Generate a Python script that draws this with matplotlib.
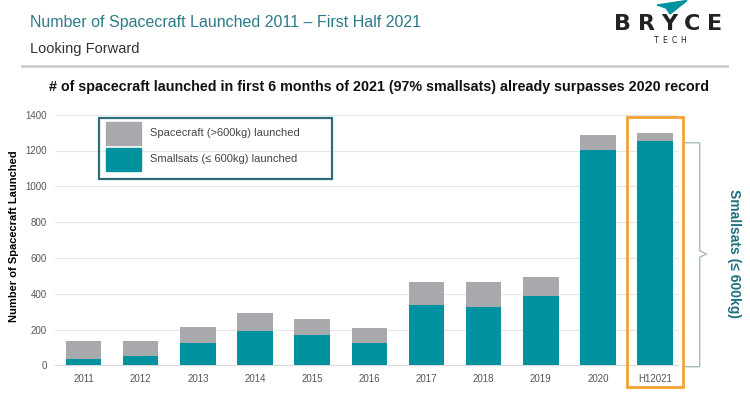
import matplotlib
matplotlib.use("Agg")
from matplotlib import pyplot as plt
from matplotlib.patches import Rectangle, Polygon
import numpy as np

plt.rcParams['font.family'] = ['Liberation Sans', 'DejaVu Sans']

years = ['2011', '2012', '2013', '2014', '2015', '2016', '2017', '2018', '2019', '2020', 'H12021']
smallsats = [37, 52, 126, 193, 171, 123, 335, 324, 387, 1203, 1255]
totals = [134, 137, 212, 294, 260, 210, 467, 465, 491, 1285, 1300]
large = [t - s for t, s in zip(totals, smallsats)]
yticks = [0, 200, 400, 600, 800, 1000, 1200, 1400]
legend_labels = ['Spacecraft (>600kg) launched', 'Smallsats (≤ 600kg) launched']

TEAL = '#00929F'
GRAY = '#A7A9AC'
W, H = 750, 393


def fx(px):
    return px / W


def fy(py):
    return 1 - py / H


fig = plt.figure(figsize=(7.5, 3.93), dpi=100)
ax = fig.add_axes([fx(55), fy(365.3), fx(678) - fx(55), fy(114.7) - fy(365.3)])

x = np.arange(len(years))
ax.bar(x, smallsats, width=0.62, color=TEAL, zorder=3)
ax.bar(x, large, bottom=smallsats, width=0.62, color=GRAY, zorder=3)

ax.set_xlim(-0.5, 10.4)
ax.set_ylim(0, 1400)
ax.set_xticks(x)
ax.set_xticklabels(years)
ax.set_yticks(yticks)
ax.tick_params(length=0, labelsize=7, colors='#555555', pad=6)
ax.grid(axis='y', color='#E6E6E6', lw=0.8, zorder=0)
for s in ['top', 'right', 'left']:
    ax.spines[s].set_visible(False)
ax.spines['bottom'].set_color('#D9D9D9')
ax.set_ylabel('Number of Spacecraft Launched', fontsize=8, fontweight='bold')
ax.yaxis.set_label_coords((19 - 55) / 623, 0.516)

# legend, drawn by hand to get the wide box of the original
fig.add_artist(Rectangle((fx(99), fy(178.7)), fx(332) - fx(99), fy(118) - fy(178.7),
                         fill=False, ec='#2E6E78', lw=1.6, transform=fig.transFigure))
for i, (lab, col) in enumerate(zip(legend_labels, [GRAY, TEAL])):
    y0 = 122 + i * 26
    fig.add_artist(Rectangle((fx(106), fy(y0 + 23)), fx(141) - fx(106), fy(y0) - fy(y0 + 23),
                             color=col, transform=fig.transFigure))
    fig.text(fx(150), fy(y0 + 11.5), lab, fontsize=8, color='#444444', va='center', ha='left')

# highlight box around H12021
ax.add_patch(Rectangle((9.50, -122), 0.98, 1507, fill=False, ec='#F5A233', lw=2,
                       clip_on=False, zorder=5))

# bracket
bc = '#9DB3B8'
bx0, bx1, btip = 10.53, 10.78, 10.90
ax.plot([bx0, bx1, bx1, btip, bx1, bx1, bx0],
        [1243, 1243, 640, 622, 604, -8, -8], color=bc, lw=0.9, clip_on=False)
ax.text(11.38, 627, 'Smallsats (≤ 600kg)', rotation=-90, ha='center', va='center',
        fontsize=10, fontweight='bold', color='#1F7080', clip_on=False)

# header
fig.text(fx(30), fy(22), 'Number of Spacecraft Launched 2011 – First Half 2021',
         fontsize=11.5, color='#2C7A8A', va='center', ha='left')
fig.text(fx(30), fy(49), 'Looking Forward', fontsize=10.5, color='#333333', va='center', ha='left')
fig.add_artist(plt.Line2D([fx(22), fx(727)], [fy(65.5), fy(65.5)], color='#CCCCCC', lw=2))
fig.text(fx(379), fy(87), '# of spacecraft launched in first 6 months of 2021 (97% smallsats) '
         'already surpasses 2020 record', fontsize=10.3, fontweight='bold', color='#111111',
         va='center', ha='center')

# logo
for cx, ch in zip([623, 646, 669, 692, 715], 'BRYCE'):
    fig.text(fx(cx), fy(24), ch, fontsize=16, color='#222222',
             va='center', ha='center', family='DejaVu Sans', fontweight='semibold')
for cx, ch in zip([656, 665, 674, 683], 'TECH'):
    fig.text(fx(cx), fy(40.5), ch, fontsize=5.5, color='#222222', va='center', ha='center',
             family='DejaVu Sans')
fig.add_artist(Polygon([(fx(657), fy(5)), (fx(687), fy(0.5)), (fx(670), fy(14)), (fx(666), fy(8))],
                       closed=True, color=TEAL, transform=fig.transFigure))

fig.savefig('out.png', dpi=100)
